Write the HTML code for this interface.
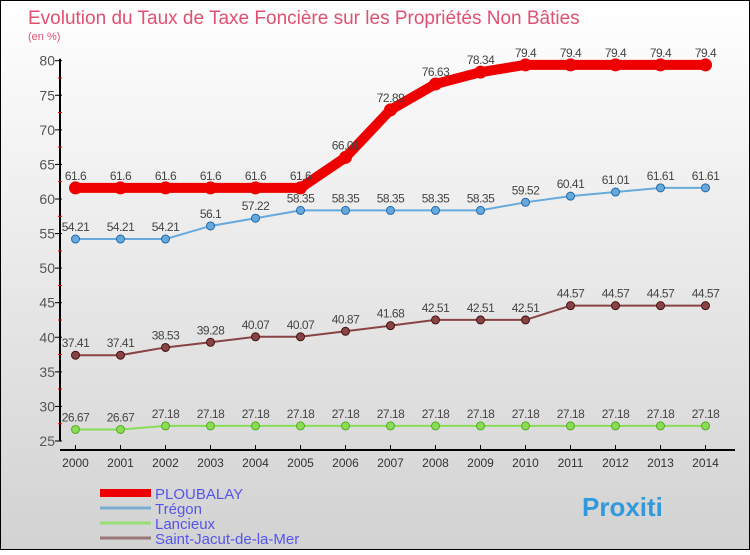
<!DOCTYPE html>
<html><head><meta charset="utf-8"><style>
body{margin:0;width:750px;height:550px;overflow:hidden;font-family:"Liberation Sans",sans-serif}
</style></head><body>
<svg width="750" height="550" xmlns="http://www.w3.org/2000/svg">
<defs><linearGradient id="bg" x1="0" y1="0" x2="0" y2="1"><stop offset="0" stop-color="#ffffff"/><stop offset="1" stop-color="#d2d2d2"/></linearGradient></defs>
<rect x="0.5" y="0.5" width="749" height="549" fill="url(#bg)" stroke="#000"/>
<text x="28" y="24" font-size="19" fill="#e05070">Evolution du Taux de Taxe Foncière sur les Propriétés Non Bâties</text>
<text x="28" y="40" font-size="11" fill="#e05070">(en %)</text>
<g id="axes"></g><g id="series"></g><g id="legend"></g>
</svg>
<script>
const years=[2000,2001,2002,2003,2004,2005,2006,2007,2008,2009,2010,2011,2012,2013,2014];
const ploubalay=[61.6,61.6,61.6,61.6,61.6,61.6,66.01,72.89,76.63,78.34,79.4,79.4,79.4,79.4,79.4];
const tregon=[54.21,54.21,54.21,56.1,57.22,58.35,58.35,58.35,58.35,58.35,59.52,60.41,61.01,61.61,61.61];
const lancieux=[26.67,26.67,27.18,27.18,27.18,27.18,27.18,27.18,27.18,27.18,27.18,27.18,27.18,27.18,27.18];
const saintJacut=[37.41,37.41,38.53,39.28,40.07,40.07,40.87,41.68,42.51,42.51,42.51,44.57,44.57,44.57,44.57];
const yTicks=[25,30,35,40,45,50,55,60,65,70,75,80];
const NS="http://www.w3.org/2000/svg";
const x=i=>75.5+i*45;
const y=v=>441-(v-25)*(380.3/55);
function mk(tag,attrs,parent,text){const e=document.createElementNS(NS,tag);for(const k in attrs)e.setAttribute(k,attrs[k]);if(text!==undefined)e.textContent=text;parent.appendChild(e);return e;}
const ax=document.getElementById('axes');
let e=mk('line',{x1:60,y1:y(80)-2,x2:60,y2:y(25),stroke:'#000','stroke-width':2},ax);


e=mk('line',{x1:60,y1:450,x2:735,y2:450,stroke:'#000','stroke-width':2},ax);


yTicks.forEach(t=>{
 mk('line',{x1:55,y1:y(t),x2:62,y2:y(t),stroke:'#000'},ax);
 if(t<80)mk('line',{x1:58,y1:y(t+2.5),x2:62,y2:y(t+2.5),stroke:'#f00'},ax);
 e=mk('text',{x:55,y:y(t)+5,'font-size':14,fill:'#555','text-anchor':'end'},ax,t);
 
 
});
years.forEach((yr,i)=>{
 mk('line',{x1:x(i),y1:445,x2:x(i),y2:450,stroke:'#000'},ax);
 e=mk('text',{x:x(i),y:467,'font-size':12,fill:'#333','text-anchor':'middle'},ax,yr);
 
 
});
const sg=document.getElementById('series');
function series(vals,color,w,name,dot,dotStroke){
 const g=mk('g',{},sg);
 
 
 e=mk('polyline',{points:vals.map((v,i)=>x(i)+','+y(v)).join(' '),fill:'none',stroke:color,'stroke-width':w,'stroke-linejoin':'round'},g);
 
 
 vals.forEach((v,i)=>{
  e=mk('circle',{cx:x(i),cy:y(v),r:dot,fill:color,stroke:dotStroke,'stroke-width':1},g);
  
  
  e=mk('text',{x:x(i),y:y(v)-8,'font-size':12,fill:'#444','text-anchor':'middle','letter-spacing':'-0.5'},g,v);
  
  
 });
}
series(lancieux,'#88dd55',2,'lancieux',4,'#55aa22');
series(saintJacut,'#884444',2,'saint-jacut',4,'#441111');
series(tregon,'#66aadd',2,'tregon',4,'#2266aa');
series(ploubalay,'#ee0000',10,'ploubalay',6,'#ee0000');
const lg=document.getElementById('legend');
const leg=[['PLOUBALAY','#ee0000',8],['Trégon','#7aaed0',3],['Lancieux','#99dd77',3],['Saint-Jacut-de-la-Mer','#997777',3]];
leg.forEach((l,i)=>{
 const yy=493+i*15;
 e=mk('line',{x1:100,y1:yy,x2:151,y2:yy,stroke:l[1],'stroke-width':l[2]},lg);
 
 
 e=mk('text',{x:155,y:yy+6,'font-size':15,fill:'#5555ee'},lg,l[0]);
 
 
});
e=mk('text',{x:582,y:516,'font-size':26,'font-weight':'bold',fill:'#3399dd'},lg,'Proxiti');


</script>
</body></html>
